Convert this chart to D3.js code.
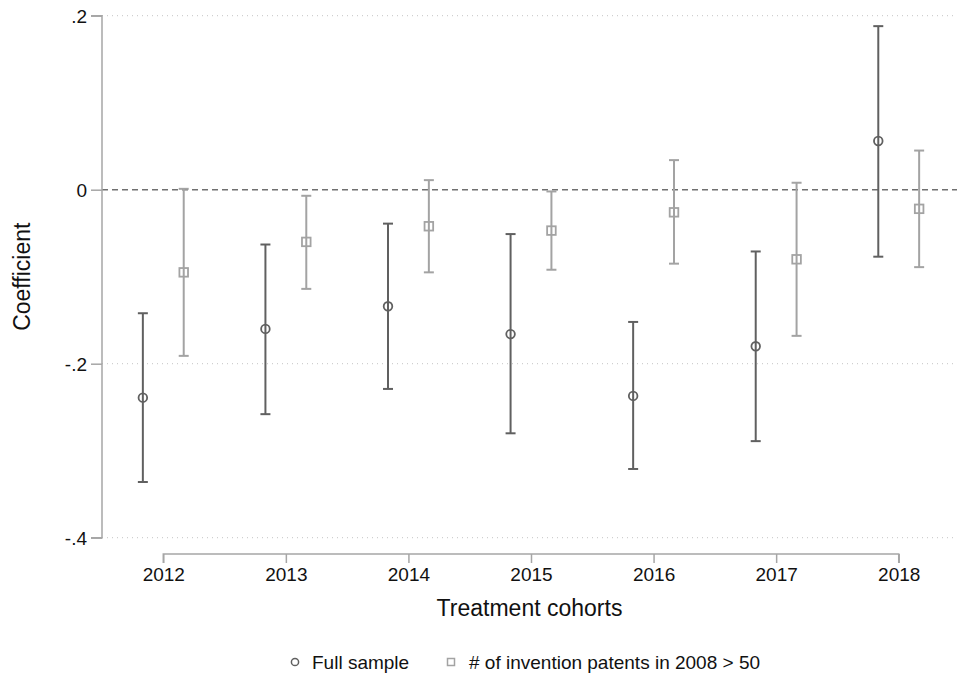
<!DOCTYPE html>
<html>
<head>
<meta charset="utf-8">
<script src="https://cdn.jsdelivr.net/npm/d3@7"></script>
<style>
  html, body { margin: 0; padding: 0; background: #fff; }
  svg { display: block; font-family: "Liberation Sans", Arial, sans-serif; }
</style>
</head>
<body>
<svg id="chart" width="958" height="679"></svg>
<script>
// Treatment cohorts (x categories)
const cohorts = [2012, 2013, 2014, 2015, 2016, 2017, 2018];

// Full sample: point estimate and 95% CI bounds
const fullCoef  = [-0.239, -0.160, -0.134, -0.166, -0.237, -0.180,  0.056];
const fullLow   = [-0.336, -0.258, -0.229, -0.280, -0.321, -0.289, -0.077];
const fullHigh  = [-0.142, -0.063, -0.039, -0.051, -0.152, -0.071,  0.188];

// Firms with more than 50 invention patents in 2008
const subCoef   = [-0.095, -0.060, -0.042, -0.047, -0.026, -0.080, -0.022];
const subLow    = [-0.191, -0.114, -0.095, -0.092, -0.085, -0.168, -0.089];
const subHigh   = [ 0.001, -0.007,  0.011, -0.002,  0.034,  0.008,  0.045];

const yTicks = [-0.4, -0.2, 0, 0.2];
const yTickLabels = ["-.4", "-.2", "0", ".2"];
const seriesNames = ["Full sample", "# of invention patents in 2008 > 50"];

const darkCol = "#606060";
const lightCol = "#a3a3a3";
const axisCol = "#a6a6a6";
const tickFont = "19px";
const titleFont = "23px";

const svg = d3.select("#chart");
const plotLeft = 102, plotRight = 960, plotTop = 15.7, plotBottom = 537.7;

const x = d3.scaleLinear().domain([2011.5, 2018.5]).range([plotLeft, plotRight]);
const y = d3.scaleLinear().domain([-0.4, 0.2]).range([plotBottom, plotTop]);
const offset = 1 / 6;

// horizontal gridlines (dotted)
svg.append("g").selectAll("line")
  .data(yTicks.filter(d => d !== 0))
  .join("line")
  .attr("x1", plotLeft).attr("x2", 957)
  .attr("y1", d => y(d)).attr("y2", d => y(d))
  .attr("stroke", "#c4c4c4").attr("stroke-width", 1)
  .attr("stroke-dasharray", "1,4");

// zero reference line
svg.append("line")
  .attr("x1", plotLeft).attr("x2", 957)
  .attr("y1", y(0)).attr("y2", y(0))
  .attr("stroke", "#707070").attr("stroke-width", 1.5)
  .attr("stroke-dasharray", "6,4");

// y axis
const yAxis = d3.axisLeft(y).tickValues(yTicks)
  .tickFormat((d, i) => yTickLabels[i]).tickSize(11).tickPadding(4);
const gy = svg.append("g").attr("transform", `translate(${plotLeft},0)`).call(yAxis);
gy.select(".domain").attr("stroke", axisCol).attr("stroke-width", 1.5)
  .attr("d", `M-11,${y(0.2)}H0V${y(-0.4)}H-11`);
gy.selectAll(".tick line").attr("stroke", axisCol).attr("stroke-width", 1.5);
gy.selectAll(".tick text").attr("fill", "#111").style("font-size", tickFont)
  .style("font-family", "Liberation Sans, Arial, sans-serif").attr("dy", "0.35em");

// x axis
const axisY = 554;
const xAxis = d3.axisBottom(x).tickValues(cohorts).tickFormat(d3.format("d"))
  .tickSize(9).tickPadding(5);
const gx = svg.append("g").attr("transform", `translate(0,${axisY})`).call(xAxis);
gx.select(".domain").attr("stroke", axisCol).attr("stroke-width", 1.5)
  .attr("d", `M${x(2012)},9V0H${x(2018)}V9`);
gx.selectAll(".tick line").attr("stroke", axisCol).attr("stroke-width", 1.5);
gx.selectAll(".tick text").attr("fill", "#111").style("font-size", tickFont)
  .style("font-family", "Liberation Sans, Arial, sans-serif");

// axis titles
svg.append("text")
  .attr("x", (plotLeft + 957) / 2).attr("y", 616)
  .attr("text-anchor", "middle").attr("fill", "#111")
  .style("font-size", titleFont).text("Treatment cohorts");
svg.append("text")
  .attr("transform", `translate(30,${(plotTop + plotBottom) / 2}) rotate(-90)`)
  .attr("text-anchor", "middle").attr("fill", "#111")
  .style("font-size", titleFont).text("Coefficient");

// error bars + markers
function drawSeries(coef, low, high, dx, color, shape) {
  const g = svg.append("g");
  const rows = cohorts.map((c, i) => ({ c, b: coef[i], lo: low[i], hi: high[i] }));
  const capW = 5;
  g.selectAll("line.bar").data(rows).join("line")
    .attr("x1", d => x(d.c + dx)).attr("x2", d => x(d.c + dx))
    .attr("y1", d => y(d.lo)).attr("y2", d => y(d.hi))
    .attr("stroke", color).attr("stroke-width", 2);
  g.selectAll("line.capHi").data(rows).join("line")
    .attr("x1", d => x(d.c + dx) - capW).attr("x2", d => x(d.c + dx) + capW)
    .attr("y1", d => y(d.hi)).attr("y2", d => y(d.hi))
    .attr("stroke", color).attr("stroke-width", 2);
  g.selectAll("line.capLo").data(rows).join("line")
    .attr("x1", d => x(d.c + dx) - capW).attr("x2", d => x(d.c + dx) + capW)
    .attr("y1", d => y(d.lo)).attr("y2", d => y(d.lo))
    .attr("stroke", color).attr("stroke-width", 2);
  if (shape === "circle") {
    g.selectAll("circle").data(rows).join("circle")
      .attr("cx", d => x(d.c + dx)).attr("cy", d => y(d.b)).attr("r", 4.3)
      .attr("fill", "none").attr("stroke", color).attr("stroke-width", 1.8);
  } else {
    g.selectAll("rect").data(rows).join("rect")
      .attr("x", d => x(d.c + dx) - 4.3).attr("y", d => y(d.b) - 4.3)
      .attr("width", 8.6).attr("height", 8.6)
      .attr("fill", "none").attr("stroke", color).attr("stroke-width", 1.8);
  }
}
drawSeries(fullCoef, fullLow, fullHigh, -offset, darkCol, "circle");
drawSeries(subCoef, subLow, subHigh, offset, lightCol, "square");

// legend
const leg = svg.append("g").attr("transform", "translate(0,662)");
leg.append("circle").attr("cx", 295).attr("cy", 0).attr("r", 3.6)
  .attr("fill", "none").attr("stroke", darkCol).attr("stroke-width", 1.5);
leg.append("text").attr("x", 312).attr("y", 0).attr("dy", "0.35em")
  .attr("fill", "#111").style("font-size", tickFont).text(seriesNames[0]);
leg.append("rect").attr("x", 447.5).attr("y", -3.5).attr("width", 7).attr("height", 7)
  .attr("fill", "none").attr("stroke", lightCol).attr("stroke-width", 1.5);
leg.append("text").attr("x", 469).attr("y", 0).attr("dy", "0.35em")
  .attr("fill", "#111").style("font-size", tickFont).text(seriesNames[1]);
</script>
</body>
</html>
